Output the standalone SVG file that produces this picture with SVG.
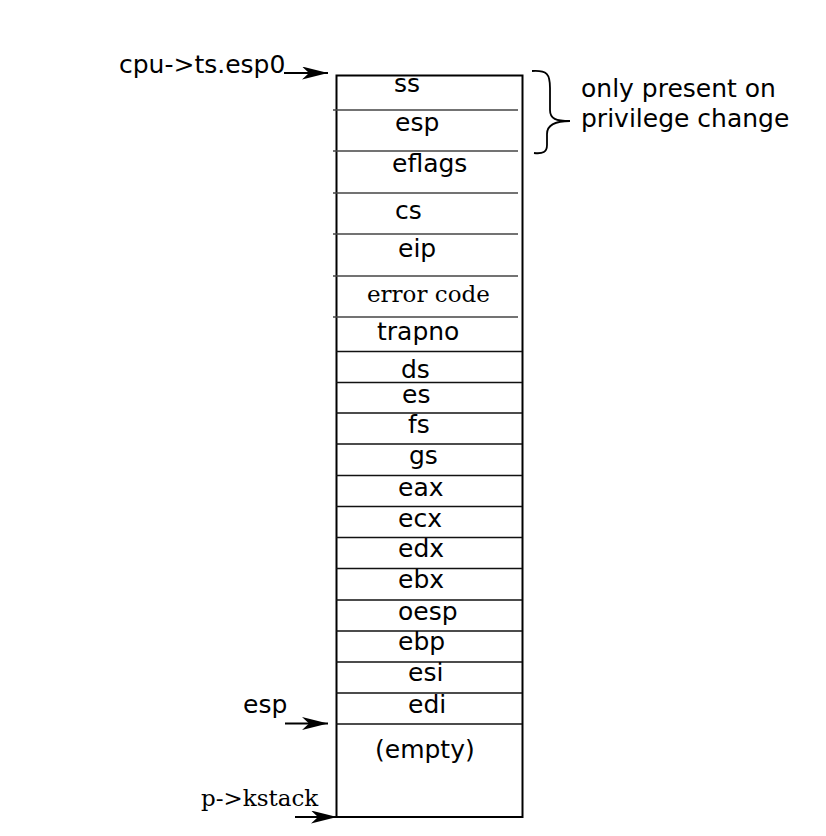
<svg xmlns="http://www.w3.org/2000/svg" width="826" height="836" viewBox="0 0 826 836">
<style>
.t{font-family:"DejaVu Sans",sans-serif;font-size:25px;fill:#000}
.s{font-family:"DejaVu Serif",serif;font-size:23px;fill:#000}
.dl{stroke:#444;stroke-width:1.4;fill:none}
.dd{stroke:#111;stroke-width:1.6;fill:none}
.ar{stroke:#000;stroke-width:1.8;fill:none}
</style>
<defs>
<marker id="ah" markerUnits="userSpaceOnUse" markerWidth="28" markerHeight="14" refX="26" refY="6.5" orient="auto">
<path d="M0,0 L26,6.5 L0,13 L7,6.5 Z" fill="#000"/>
</marker>
</defs>
<rect width="826" height="836" fill="#fff"/>
<g id="stack">
<rect x="336.5" y="75.5" width="186" height="741.5" fill="none" stroke="#000" stroke-width="2"/>
</g>
<g id="cell-ss"><text class="t" x="394" y="92">ss</text></g>
<g id="cell-esp"><line class="dl" x1="333" y1="110" x2="518" y2="110"/><text class="t" x="395" y="131">esp</text></g>
<g id="cell-eflags"><line class="dl" x1="333" y1="151" x2="518" y2="151"/><text class="t" x="392" y="172">eflags</text></g>
<g id="cell-cs"><line class="dl" x1="333" y1="193" x2="518" y2="193"/><text class="t" x="395" y="219">cs</text></g>
<g id="cell-eip"><line class="dl" x1="333" y1="234" x2="518" y2="234"/><text class="t" x="398" y="257">eip</text></g>
<g id="cell-errorcode"><line class="dl" x1="333" y1="276" x2="518" y2="276"/><text class="s" x="367" y="302">error code</text></g>
<g id="cell-trapno"><line class="dl" x1="333" y1="317" x2="518" y2="317"/><text class="t" x="377" y="340">trapno</text></g>
<g id="cell-ds"><line class="dd" x1="336" y1="351.5" x2="522" y2="351.5"/><text class="t" x="401" y="378">ds</text></g>
<g id="cell-es"><line class="dd" x1="336" y1="382.5" x2="522" y2="382.5"/><text class="t" x="402" y="403">es</text></g>
<g id="cell-fs"><line class="dd" x1="336" y1="413" x2="522" y2="413"/><text class="t" x="408" y="433">fs</text></g>
<g id="cell-gs"><line class="dd" x1="336" y1="444" x2="522" y2="444"/><text class="t" x="409" y="464">gs</text></g>
<g id="cell-eax"><line class="dd" x1="336" y1="475.5" x2="522" y2="475.5"/><text class="t" x="398" y="496">eax</text></g>
<g id="cell-ecx"><line class="dd" x1="336" y1="506.5" x2="522" y2="506.5"/><text class="t" x="398" y="527">ecx</text></g>
<g id="cell-edx"><line class="dd" x1="336" y1="537.5" x2="522" y2="537.5"/><text class="t" x="398" y="557">edx</text></g>
<g id="cell-ebx"><line class="dd" x1="336" y1="568.5" x2="522" y2="568.5"/><text class="t" x="398" y="588">ebx</text></g>
<g id="cell-oesp"><line class="dd" x1="336" y1="600" x2="522" y2="600"/><text class="t" x="398" y="620">oesp</text></g>
<g id="cell-ebp"><line class="dd" x1="336" y1="631" x2="522" y2="631"/><text class="t" x="398" y="650">ebp</text></g>
<g id="cell-esi"><line class="dd" x1="336" y1="662" x2="522" y2="662"/><text class="t" x="408" y="681">esi</text></g>
<g id="cell-edi"><line class="dd" x1="336" y1="693" x2="522" y2="693"/><text class="t" x="408" y="713">edi</text></g>
<g id="cell-empty"><line class="dd" x1="336" y1="724" x2="522" y2="724"/><text class="t" x="375" y="758">(empty)</text></g>
<g id="label-esp0"><text class="t" x="119" y="73">cpu-&gt;ts.esp0</text></g>
<g id="label-esp"><text class="t" x="243" y="713">esp</text></g>
<g id="label-kstack"><text class="s" x="201" y="806">p-&gt;kstack</text></g>
<g id="note"><text class="t" x="581" y="97">only present on</text><text class="t" x="581" y="127">privilege change</text></g>
<g id="connectors">
<line class="ar" x1="284" y1="73" x2="328" y2="73" marker-end="url(#ah)"/>
<line class="ar" x1="285" y1="723.5" x2="328" y2="723.5" marker-end="url(#ah)"/>
<line class="ar" x1="295" y1="817" x2="337" y2="817" marker-end="url(#ah)"/>
<path class="ar" d="M532,71 C547,70 550,74 550,88 L550,110 C550,119 556,121 570,121 M570,121 C556,121 547,124 547,134 L547,145 C547,152 543,154 534,153"/>
</g>
</svg>
